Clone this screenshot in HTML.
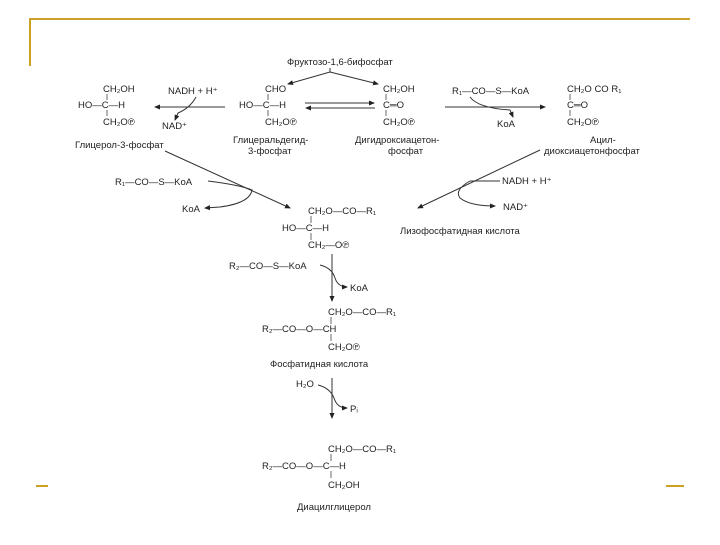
<!DOCTYPE html>
<html><head><meta charset="utf-8"><style>
body{margin:0;background:#fff;width:720px;height:540px;overflow:hidden}
svg text{font-family:"Liberation Sans","DejaVu Sans",sans-serif;font-size:9.5px;fill:#222}
</style></head><body>
<svg width="720" height="540" viewBox="0 0 720 540" xmlns="http://www.w3.org/2000/svg">
<defs><marker id="a" markerWidth="6" markerHeight="6" refX="5" refY="3" orient="auto"><path d="M0,0.5L6,3L0,5.5z" fill="#222"/></marker></defs>
<g stroke="#c9a227" stroke-width="2" fill="none">
<path d="M30,66V19H690"/><path d="M36,486H48"/><path d="M666,486H684"/>
</g>
<g stroke="#333" stroke-width="1" fill="none">
<path d="M330,68L330,72L288,84" marker-end="url(#a)"/><path d="M330,72L378,84" marker-end="url(#a)"/>
<path d="M305,103H374" marker-end="url(#a)"/><path d="M375,108H306" marker-end="url(#a)"/>
<path d="M225,107H155" marker-end="url(#a)"/><path d="M196,97Q190,108 178,113L175,120" marker-end="url(#a)"/>
<path d="M445,107H545" marker-end="url(#a)"/><path d="M470,97Q478,108 510,110L513,117" marker-end="url(#a)"/>
<path d="M165,151L290,208" marker-end="url(#a)"/><path d="M208,181Q240,185 252,190Q250,203 220,207L205,208" marker-end="url(#a)"/>
<path d="M540,150L418,208" marker-end="url(#a)"/><path d="M500,181H470Q454,190 460,198Q470,206 495,206" marker-end="url(#a)"/>
<path d="M332,254V301" marker-end="url(#a)"/><path d="M320,265Q332,268 335,278Q338,287 347,287" marker-end="url(#a)"/>
<path d="M332,378V418" marker-end="url(#a)"/><path d="M318,385Q330,388 334,398Q337,408 347,408" marker-end="url(#a)"/>
</g>
<g stroke="#444" stroke-width="0.8">
<path d="M107,94V100M107,110V116"/>
<path d="M268,94V100M268,110V116"/>
<path d="M386,94V100M386,110V116"/>
<path d="M570,94V100M570,110V116"/>
<path d="M311,216V223M311,233V240"/>
<path d="M331,317V324M331,334V341"/>
<path d="M331,454V461M331,471V478"/>
</g>
<text x="287" y="65">Фруктозо-1,6-бифосфат</text>
<text x="265" y="92">CHO</text><text x="239" y="108">HO—C—H</text><text x="265" y="125">CH₂O℗</text>
<text x="233" y="143">Глицеральдегид-</text><text x="248" y="154">3-фосфат</text>
<text x="383" y="92">CH₂OH</text><text x="383" y="108">C═O</text><text x="383" y="125">CH₂O℗</text>
<text x="355" y="143">Дигидроксиацетон-</text><text x="388" y="154">фосфат</text>
<text x="103" y="92">CH₂OH</text><text x="78" y="108">HO—C—H</text><text x="103" y="125">CH₂O℗</text>
<text x="168" y="94">NADH + H⁺</text><text x="162" y="129">NAD⁺</text>
<text x="75" y="148">Глицерол-3-фосфат</text>
<text x="452" y="94">R₁—CO—S—KoA</text><text x="497" y="127">KoA</text>
<text x="567" y="92">CH₂O  CO  R₁</text><text x="567" y="108">C═O</text><text x="567" y="125">CH₂O℗</text>
<text x="590" y="143">Ацил-</text><text x="544" y="154">диоксиацетонфосфат</text>
<text x="502" y="184">NADH + H⁺</text><text x="503" y="210">NAD⁺</text>
<text x="400" y="234">Лизофосфатидная кислота</text>
<text x="115" y="185">R₁—CO—S—KoA</text><text x="182" y="212">KoA</text>
<text x="308" y="214">CH₂O—CO—R₁</text><text x="282" y="231">HO—C—H</text><text x="308" y="248">CH₂—O℗</text>
<text x="229" y="269">R₂—CO—S—KoA</text><text x="350" y="291">KoA</text>
<text x="328" y="315">CH₂O—CO—R₁</text><text x="262" y="332">R₂—CO—O—CH</text><text x="328" y="350">CH₂O℗</text>
<text x="270" y="367">Фосфатидная кислота</text>
<text x="296" y="387">H₂O</text><text x="350" y="412">Pᵢ</text>
<text x="328" y="452">CH₂O—CO—R₁</text><text x="262" y="469">R₂—CO—O—C—H</text><text x="328" y="488">CH₂OH</text>
<text x="297" y="510">Диацилглицерол</text>
</svg>
</body></html>
